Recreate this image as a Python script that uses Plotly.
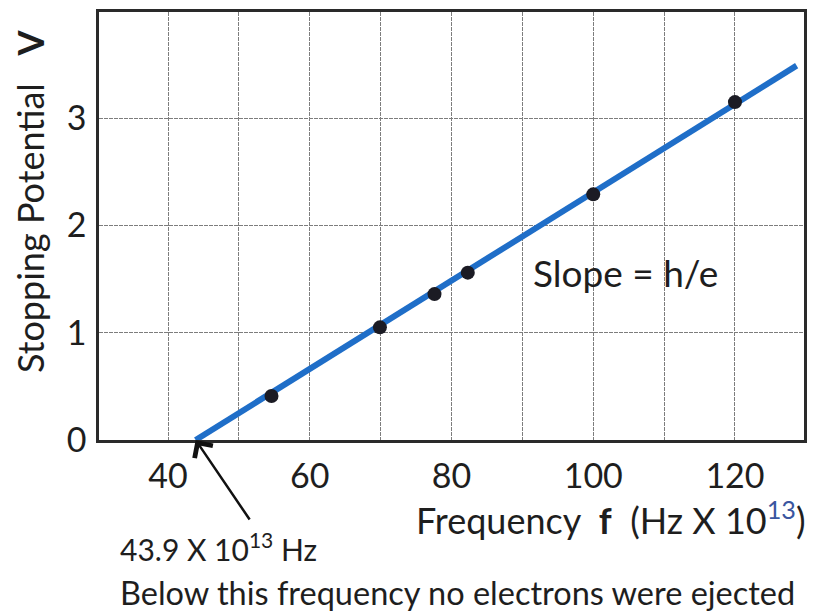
import plotly.graph_objects as go

# Measured data points (frequency in 10^13 Hz, stopping potential in V)
freq = [54.6, 69.9, 77.6, 82.3, 100.0, 120.0]
volt = [0.41, 1.05, 1.36, 1.56, 2.29, 3.15]

# Best-fit line endpoints
fit_freq = [43.9, 128.7]
fit_volt = [0.0, 3.49]

x_tickvals = [40, 60, 80, 100, 120]
x_ticktext = ["40", "60", "80", "100", "120"]
y_tickvals = [0, 1, 2, 3]
y_ticktext = ["0", "1", "2", "3"]

FONT = "Lato"
TXT = "#1e1e1e"
GRID = "#7d7d7d"

fig = go.Figure()
fig.add_trace(go.Scatter(x=fit_freq, y=fit_volt, mode="lines",
                         line=dict(color="#1f6ec8", width=6), hoverinfo="skip"))
fig.add_trace(go.Scatter(x=freq, y=volt, mode="markers",
                         marker=dict(color="#1b1b24", size=14)))

# page body has an 8px margin, so the figure is 8px smaller and shifted
fig.update_layout(
    width=812, height=605,
    margin=dict(l=91, r=16, t=1, b=173),
    paper_bgcolor="white", plot_bgcolor="white",
    showlegend=False,
    font=dict(family=FONT, color=TXT),
    xaxis=dict(range=[30.26, 129.74], tickvals=x_tickvals, ticktext=x_ticktext,
               showgrid=True, gridcolor=GRID, gridwidth=1.3, griddash="4px,1px",
               minor=dict(dtick=10, tick0=0, showgrid=True, gridcolor=GRID,
                          gridwidth=1.3, griddash="4px,1px"),
               showline=True, linecolor="#2a2a2a", linewidth=2.5, mirror=True,
               zeroline=False, ticks="", ticklabelstandoff=4,
               tickfont=dict(size=34, family=FONT, color=TXT)),
    yaxis=dict(range=[0, 3.99], tickvals=y_tickvals, ticktext=y_ticktext,
               showgrid=True, gridcolor=GRID, gridwidth=1.3, griddash="4px,1px",
               showline=True, linecolor="#2a2a2a", linewidth=2.5, mirror=True,
               zeroline=False, ticks="", ticklabelstandoff=3,
               tickfont=dict(size=34, family=FONT, color=TXT)),
)

anns = [
    dict(text="Stopping Potential&nbsp;&nbsp;&nbsp;<b>V</b>", xref="paper", yref="paper",
         x=-0.098, y=0.558, textangle=-90, showarrow=False,
         xanchor="center", yanchor="middle", font=dict(size=36)),
    dict(text="Frequency&nbsp;&nbsp;<b>f</b>&nbsp;&nbsp;(Hz X 10<sup><span style='color:#3a56a0'>13</span></sup>)",
         xref="paper", yref="paper", x=0.726, y=-0.183, showarrow=False,
         xanchor="center", yanchor="middle", font=dict(size=36)),
    dict(text="Slope = h/e", xref="x", yref="y", x=104.5, y=1.56, showarrow=False,
         xanchor="center", yanchor="middle", font=dict(size=37)),
    dict(text="43.9 X 10<sup>13</sup> Hz", xref="paper", yref="paper",
         x=0.027, y=-0.249, showarrow=False, xanchor="left", yanchor="middle",
         font=dict(size=30)),
    dict(text="Below this frequency no electrons were ejected", xref="paper", yref="paper",
         x=0.027, y=-0.357, showarrow=False, xanchor="left", yanchor="middle",
         font=dict(size=32.5)),
    dict(text="", x=fit_freq[0], y=fit_volt[0], xref="x", yref="y",
         showarrow=True, ax=55, ay=81, arrowhead=4, arrowsize=1.7, arrowwidth=2.5,
         arrowcolor="#111111"),
]
fig.update_layout(annotations=anns)

fig.write_html("out.html")
